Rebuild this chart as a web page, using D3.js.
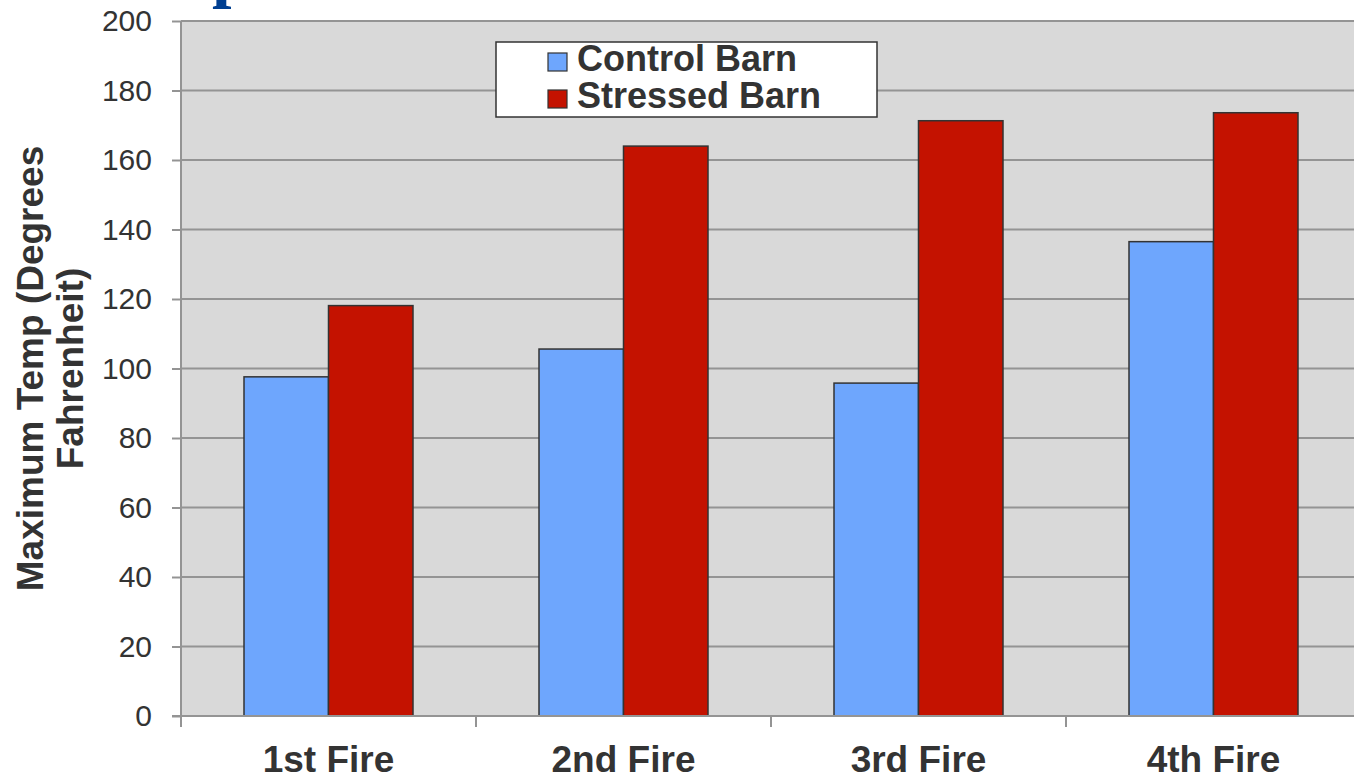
<!DOCTYPE html>
<html>
<head>
<meta charset="utf-8">
<script src="https://cdn.jsdelivr.net/npm/d3@7"></script>
<style>
  html, body { margin: 0; padding: 0; background: #fff; overflow: hidden; }
  svg { display: block; font-family: "Liberation Sans", Arial, sans-serif; }
</style>
</head>
<body>
<svg id="chart" width="1354" height="776"></svg>
<script>
const categories = ["1st Fire", "2nd Fire", "3rd Fire", "4th Fire"];
const seriesNames = ["Control Barn", "Stressed Barn"];
const controlValues = [97.6, 105.6, 95.8, 136.5];
const stressedValues = [118.1, 164.0, 171.3, 173.6];
const yTicks = [0, 20, 40, 60, 80, 100, 120, 140, 160, 180, 200];
const yTitleLines = ["Maximum Temp (Degrees", "Fahrenheit)"];

const colors = ["#6ea6fd", "#c41200"];
const textColor = "#333333";

const svg = d3.select("#chart");
const plotLeft = 181, plotTop = 21, plotBottom = 716, bandW = 295;

const x = d3.scaleBand().domain(categories).range([plotLeft, plotLeft + bandW * categories.length]).padding(0);
const xs = d3.scaleBand().domain(seriesNames).range([63, 232]).padding(0);
const y = d3.scaleLinear().domain([0, 200]).range([plotBottom, plotTop]);

// partially visible title glyph at top (cut off in the original)
svg.append("text")
  .attr("x", 212).attr("y", -6)
  .attr("font-family", "Liberation Serif, Times New Roman, serif")
  .attr("font-weight", "bold").attr("font-size", 70)
  .attr("fill", "#003f91")
  .text("p");

// plot area
svg.append("rect")
  .attr("x", plotLeft).attr("y", plotTop)
  .attr("width", x.range()[1] - plotLeft).attr("height", plotBottom - plotTop)
  .attr("fill", "#d9d9d9");

// gridlines
svg.append("g").selectAll("line").data(yTicks.filter(d => d > 0)).join("line")
  .attr("x1", plotLeft).attr("x2", x.range()[1])
  .attr("y1", d => y(d)).attr("y2", d => y(d))
  .attr("stroke", "#949494").attr("stroke-width", 2);

// bars
const data = categories.map((c, i) => ({ cat: c, vals: [controlValues[i], stressedValues[i]] }));
const groups = svg.append("g").selectAll("g").data(data).join("g")
  .attr("transform", d => `translate(${x(d.cat)},0)`);
groups.selectAll("rect").data(d => d.vals.map((v, j) => ({ s: seriesNames[j], v, j }))).join("rect")
  .attr("x", d => xs(d.s)).attr("width", xs.bandwidth())
  .attr("y", d => y(d.v)).attr("height", d => plotBottom - y(d.v))
  .attr("fill", d => colors[d.j])
  .attr("stroke", "#333").attr("stroke-width", 1.5);

// y axis
const yAxis = svg.append("g").attr("transform", `translate(${plotLeft},0)`)
  .call(d3.axisLeft(y).tickValues(yTicks).tickSize(9).tickPadding(20).tickSizeOuter(0));
yAxis.select(".domain").attr("stroke", "#949494").attr("stroke-width", 2)
  .attr("d", `M0,${plotTop}V${plotBottom + 11}`);
yAxis.selectAll(".tick line").attr("stroke", "#949494").attr("stroke-width", 2);
yAxis.selectAll(".tick text").attr("fill", textColor)
  .attr("font-size", 30).attr("font-family", "Liberation Sans, Arial, sans-serif");

// x axis
const xAxis = svg.append("g").attr("transform", `translate(0,${plotBottom})`)
  .call(d3.axisBottom(x).tickSize(0).tickSizeOuter(0).tickPadding(0));
xAxis.select(".domain").attr("stroke", "#949494").attr("stroke-width", 2)
  .attr("d", `M${plotLeft - 9},0H${x.range()[1]}`);
xAxis.selectAll(".tick text").attr("fill", textColor)
  .attr("font-size", 37).attr("font-weight", "bold")
  .attr("font-family", "Liberation Sans, Arial, sans-serif")
  .attr("dy", null).attr("y", 56);
// category boundary ticks
svg.append("g").selectAll("line").data(categories).join("line")
  .attr("x1", d => x(d)).attr("x2", d => x(d))
  .attr("y1", plotBottom).attr("y2", plotBottom + 11)
  .attr("stroke", "#949494").attr("stroke-width", 2);

// y title
const yt = svg.append("text")
  .attr("transform", `translate(0,${(plotTop + plotBottom) / 2}) rotate(-90)`)
  .attr("text-anchor", "middle").attr("fill", textColor)
  .attr("font-size", 37).attr("font-weight", "bold");
yt.selectAll("tspan").data(yTitleLines).join("tspan")
  .attr("x", 0).attr("y", (d, i) => 43 + i * 40)
  .text(d => d);

// legend
const lg = svg.append("g");
lg.append("rect").attr("x", 496).attr("y", 42).attr("width", 381).attr("height", 75)
  .attr("fill", "#fff").attr("stroke", "#333").attr("stroke-width", 1.5);
const items = lg.selectAll("g").data(seriesNames).join("g")
  .attr("transform", (d, i) => `translate(548,${53 + i * 37})`);
items.append("rect").attr("width", 19).attr("height", 18)
  .attr("fill", (d, i) => colors[i]).attr("stroke", "#333").attr("stroke-width", 1.2);
items.append("text").attr("x", 29).attr("y", 18)
  .attr("font-size", 36).attr("font-weight", "bold").attr("fill", textColor)
  .text(d => d);
</script>
</body>
</html>
